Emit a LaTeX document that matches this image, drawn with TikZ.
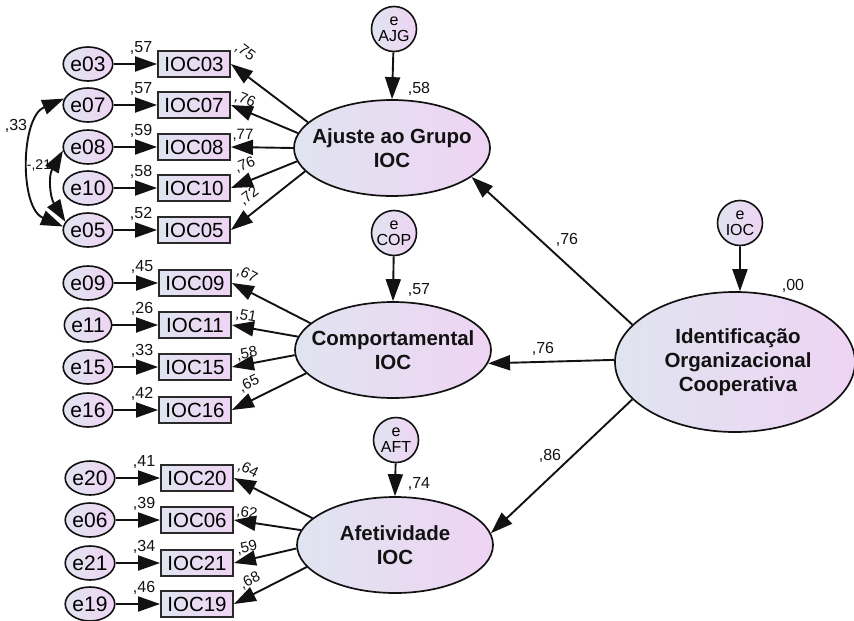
\documentclass[tikz,border=0pt]{standalone}
\usepackage{fontspec}
\setmainfont{Liberation Sans}
\usetikzlibrary{shapes.geometric,arrows.meta,calc}

\definecolor{shadeA}{RGB}{224,228,240}
\definecolor{shadeB}{RGB}{238,212,243}
\definecolor{ink}{RGB}{18,18,18}

% font size in points with a matching line spacing
\newcommand\pxfont[2]{\fontsize{#1}{#2}\selectfont}

\begin{document}
\begin{tikzpicture}[x=1pt,y=-1pt,
  gradfill/.style={left color=shadeA, right color=shadeB},
  errc/.style={ellipse, draw=ink, line width=1.6pt, gradfill,
    minimum width=40pt, minimum height=34pt, inner sep=0pt, font=\pxfont{21}{24}},
  ind/.style={rectangle, draw=ink!90, line width=1.9pt, gradfill,
    minimum width=72pt, minimum height=26pt, inner sep=0pt, font=\pxfont{20.5}{22}},
  lat/.style={ellipse, draw=ink, line width=1.7pt, gradfill,
    minimum width=196pt, minimum height=96pt, inner sep=0pt},
  lattext/.style={align=center, font=\bfseries\pxfont{20.5}{24}, text=ink},
  elat/.style={circle, draw=ink, line width=1.6pt, gradfill,
    minimum size=45pt, inner sep=0pt, align=center, font=\pxfont{16}{16}},
  arr/.style={draw=ink, line width=1.9pt, -{Triangle[length=22pt,width=15pt]}},
  dbl/.style={draw=ink, line width=1.9pt,
    {Triangle[length=22pt,width=15pt]}-{Triangle[length=22pt,width=15pt]}},
  lbl/.style={font=\pxfont{16}{16}, text=ink, inner sep=0pt},
  ld/.style={font=\pxfont{15}{15}, text=ink, inner sep=0pt},
]
\useasboundingbox (0,0) rectangle (854,621);

% ---------- latent factors ----------
\node[lat] (AJ) at (392,148) {};
\node[lattext] (AJt) at (AJ) {Ajuste ao Grupo\\IOC};
\node[lat] (CO) at (393,350) {};
\node[lattext] (COt) at (CO) {Comportamental\\IOC};
\node[lat] (AF) at (395,545) {};
\node[lattext] (AFt) at (AF) {Afetividade\\IOC};
\node[lat, minimum width=240pt, minimum height=140pt] (IOC) at (735,362) {};
\node[lattext] (IOCt) at (738,362) {Identificação\\Organizacional\\Cooperativa};

% ---------- disturbances ----------
\node[elat] (eAJG) at (394,29) {e\\AJG};
\node[elat] (eCOP) at (394,233) {e\\COP};
\node[elat] (eAFT) at (396,440) {e\\AFT};
\node[elat] (eIOC) at (740,223) {e\\IOC};

\draw[arr] (eAJG) -- (AJ.north);
\draw[arr] (eCOP) -- (CO.north);
\draw[arr] (eAFT) -- (AF.north);
\draw[arr] (eIOC) -- (IOC.86);

\node[lbl] (vAJ) at (419,89) {,58};
\node[lbl] (vCO) at (419,290) {,57};
\node[lbl] (vAF) at (419,484) {,74};
\node[lbl] (vIOC) at (793,286) {,00};

% ---------- second-order paths ----------
\draw[arr] (IOC.160) -- (AJ.340);
\draw[arr] (IOC.179) -- (CO.352);
\draw[arr] (IOC.200) -- (AF.7);
\node[lbl] (pAJ) at (567,240) {,76};
\node[lbl] (pCO) at (543,349) {,76};
\node[lbl] (pAF) at (550,456) {,86};

% ---------- indicators with their errors ----------
% #1 item, #2 error, #3 x of error, #4 x of item, #5 y, #6 R^2
\newcommand\indicator[6]{%
  \node[errc] (#2) at (#3,#5) {#2};
  \node[ind] (#1) at (#4,#5) {#1};
  \draw[arr] (#2) -- (#1);
  \node[lbl] (r#1) at ($(#1.west)+(-16,-16)$) {#6};
}
\indicator{IOC03}{e03}{88}{194}{64}{,57}
\indicator{IOC07}{e07}{88}{194}{105}{,57}
\indicator{IOC08}{e08}{88}{194}{147}{,59}
\indicator{IOC10}{e10}{88}{194}{188}{,58}
\indicator{IOC05}{e05}{88}{194}{230}{,52}

\indicator{IOC09}{e09}{88}{195}{283}{,45}
\indicator{IOC11}{e11}{88}{195}{325}{,26}
\indicator{IOC15}{e15}{88}{195}{367}{,33}
\indicator{IOC16}{e16}{88}{195}{410}{,42}

\indicator{IOC20}{e20}{90}{197}{478}{,41}
\indicator{IOC06}{e06}{90}{197}{520}{,39}
\indicator{IOC21}{e21}{90}{197}{563}{,34}
\indicator{IOC19}{e19}{90}{197}{604}{,46}

% ---------- factor loadings ----------
\draw[arr] (AJ.163) -- (IOC03.east);
\draw[arr] (AJ.171) -- (IOC07.east);
\draw[arr] (AJ.180) -- (IOC08.east);
\draw[arr] (AJ.188) -- (IOC10.east);
\draw[arr] (AJ.195) -- (IOC05.east);
\node[ld, rotate=-37] (l03) at (245,52) {,75};
\node[ld, rotate=-22] (l07) at (245,100) {,76};
\node[ld] (l08) at (243,135) {,77};
\node[ld, rotate=21] (l10) at (245,165) {,76};
\node[ld, rotate=37] (l05) at (249,196) {,72};

\draw[arr] (CO.162) -- (IOC09.east);
\draw[arr] (CO.172) -- (IOC11.east);
\draw[arr] (CO.183) -- (IOC15.east);
\draw[arr] (CO.195) -- (IOC16.east);
\node[ld, rotate=-27] (l09) at (247,275) {,67};
\node[ld, rotate=-10] (l11) at (246,316) {,51};
\node[ld, rotate=11] (l15) at (247,354) {,58};
\node[ld, rotate=26] (l16) at (249,384) {,65};

\draw[arr] (AF.162) -- (IOC20.east);
\draw[arr] (AF.171) -- (IOC06.east);
\draw[arr] (AF.182) -- (IOC21.east);
\draw[arr] (AF.194) -- (IOC19.east);
\node[ld, rotate=-27] (l20) at (248,470) {,64};
\node[ld, rotate=-8] (l06) at (247,513) {,62};
\node[ld, rotate=13] (l21) at (247,548) {,59};
\node[ld, rotate=27] (l19) at (250,581) {,68};

% ---------- error covariances ----------
\draw[dbl] (e07.165) to[out=203, in=157, looseness=0.95] (e05.172);
\draw[dbl] (e08.188) to[out=240, in=122, looseness=1.05] (e05.160);
\node[lbl] (c1) at (16,126) {,33};
\node[lbl, font=\pxfont{14}{14}] (c2) at (39,166) {-,21};
\end{tikzpicture}
\end{document}
